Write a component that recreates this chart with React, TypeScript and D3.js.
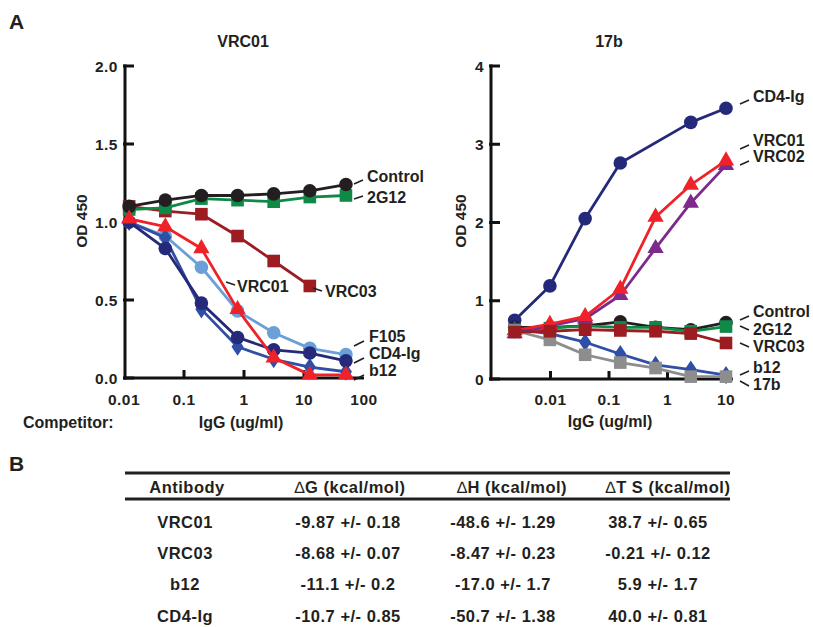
import React from "react";
import * as d3 from "d3";

// ---------- Data ----------
const leftConc = [0.0122, 0.0488, 0.195, 0.781, 3.125, 12.5, 50];
const rightConc = [0.00244, 0.00977, 0.0391, 0.156, 0.625, 2.5, 10];
const rightConcCD4 = [0.00244, 0.00977, 0.0391, 0.156, 2.5, 10];

const leftControl = [1.1, 1.14, 1.17, 1.17, 1.18, 1.2, 1.24];
const left2G12 = [1.08, 1.09, 1.15, 1.14, 1.13, 1.16, 1.17];
const leftVRC03 = [1.1, 1.07, 1.05, 0.91, 0.75, 0.59];
const leftF105 = [1.0, 0.91, 0.71, 0.43, 0.29, 0.19, 0.15];
const leftCD4Ig = [1.0, 0.83, 0.48, 0.26, 0.18, 0.16, 0.11];
const leftB12 = [1.0, 0.9, 0.44, 0.2, 0.12, 0.07, 0.04];
const leftVRC01 = [1.02, 0.97, 0.83, 0.44, 0.13, 0.02, 0.02];

const rightCD4Ig = [0.75, 1.19, 2.05, 2.76, 3.28, 3.46];
const rightVRC01 = [0.62, 0.7, 0.8, 1.15, 2.07, 2.48, 2.79];
const rightVRC02 = [0.58, 0.68, 0.77, 1.07, 1.67, 2.25, 2.73];
const rightControl = [0.66, 0.66, 0.68, 0.73, 0.66, 0.63, 0.72];
const right2G12 = [0.63, 0.65, 0.68, 0.66, 0.66, 0.61, 0.67];
const rightVRC03 = [0.6, 0.61, 0.63, 0.62, 0.61, 0.58, 0.46];
const rightB12 = [0.63, 0.58, 0.47, 0.32, 0.18, 0.12, 0.05];
const right17b = [0.62, 0.5, 0.31, 0.21, 0.14, 0.03, 0.03];

const leftXTicks = [0.01, 0.1, 1, 10, 100];
const leftXTickLabels = ["0.01", "0.1", "1", "10", "100"];
const leftYTicks = [0, 0.5, 1, 1.5, 2];
const leftYTickLabels = ["0.0", "0.5", "1.0", "1.5", "2.0"];
const rightXTicks = [0.01, 0.1, 1, 10];
const rightXTickLabels = ["0.01", "0.1", "1", "10"];
const rightYTicks = [0, 1, 2, 3, 4];
const rightYTickLabels = ["0", "1", "2", "3", "4"];

const tableHeaders = ["Antibody", "G (kcal/mol)", "H (kcal/mol)", "T S (kcal/mol)"];
const tableAntibodies = ["VRC01", "VRC03", "b12", "CD4-Ig"];
const tableDG = ["-9.87 +/- 0.18", "-8.68 +/- 0.07", "-11.1 +/- 0.2", "-10.7 +/- 0.85"];
const tableDH = ["-48.6 +/- 1.29", "-8.47 +/- 0.23", "-17.0 +/- 1.7", "-50.7 +/- 1.38"];
const tableDTS = ["38.7 +/- 0.65", "-0.21 +/- 0.12", "5.9 +/- 1.7", "40.0 +/- 0.81"];

// ---------- Styles ----------
const FONT = "'Liberation Sans', Arial, Helvetica, sans-serif";
const INK = "#231f20";
const C = {
  control: "#231f20",
  g2g12: "#0f8a46",
  vrc03: "#9c1c22",
  vrc01: "#ee2228",
  f105: "#6b9fd8",
  cd4: "#25297a",
  b12: "#2f4ea6",
  vrc02: "#7d2a8c",
  b17: "#8d8d8d",
};

type Shape = "circle" | "square" | "triangle" | "diamond";

function Marker({ x, y, shape, color }: { x: number; y: number; shape: Shape; color: string }) {
  if (shape === "circle") return <circle cx={x} cy={y} r={6.8} fill={color} />;
  if (shape === "square") return <rect x={x - 6.3} y={y - 6.3} width={12.6} height={12.6} fill={color} />;
  if (shape === "triangle") {
    const s = d3.symbol().type(d3.symbolTriangle).size(115)();
    return <path d={s || ""} transform={`translate(${x},${y})`} fill={color} />;
  }
  const s = d3.symbol().type(d3.symbolDiamond).size(95)();
  return <path d={s || ""} transform={`translate(${x},${y}) scale(1.15,1)`} fill={color} />;
}

function Series({
  xs,
  ys,
  xScale,
  yScale,
  shape,
  color,
}: {
  xs: number[];
  ys: number[];
  xScale: d3.ScaleLogarithmic<number, number>;
  yScale: d3.ScaleLinear<number, number>;
  shape: Shape;
  color: string;
}) {
  const pts: [number, number][] = ys.map((v, i) => [xScale(xs[i]), yScale(v)]);
  const line = d3.line()(pts) || "";
  return (
    <g>
      <path d={line} fill="none" stroke={color} strokeWidth={2.8} strokeLinejoin="round" />
      {pts.map((p, i) => (
        <Marker key={i} x={p[0]} y={p[1]} shape={shape} color={color} />
      ))}
    </g>
  );
}

function Label({ x, y, text, lx1, ly1, lx2, ly2 }: any) {
  return (
    <g>
      <line x1={lx1} y1={ly1} x2={lx2} y2={ly2} stroke={INK} strokeWidth={1.6} />
      <text x={x} y={y} fontSize={16} fontWeight="bold" fill={INK}>
        {text}
      </text>
    </g>
  );
}

export default function App() {
  // Left panel scales
  const lx = d3.scaleLog().domain([0.01, 100]).range([124, 364]);
  const ly = d3.scaleLinear().domain([0, 2]).range([378, 66]);
  // Right panel scales
  const rx = d3.scaleLog().domain([0.001, 10]).range([492, 726]);
  const ry = d3.scaleLinear().domain([0, 4]).range([379, 66]);

  const axisColor = "#111";
  const tickFont = 15.5;
  const tickLS = 0.5;
  const tblFont = 16.5;
  const tblLS = 0.5;

  const colX = [185, 348, 503, 658];
  const headerX = [187, 350, 512, 668];
  const rowY = [528, 559, 590, 622];

  return (
    <svg width={813} height={627} style={{ position: "absolute", left: 0, top: 0 }} fontFamily={FONT}>
      <rect width={813} height={627} fill="#fff" />
      <text x={9} y={29} fontSize={21} fontWeight="bold" fill={INK}>A</text>
      <text x={9} y={471} fontSize={21} fontWeight="bold" fill={INK}>B</text>

      {/* ---------- Left panel ---------- */}
      <text x={243} y={47} fontSize={16} fontWeight="bold" textAnchor="middle" fill={INK}>VRC01</text>
      <line x1={125} y1={ly(2) - 1.5} x2={125} y2={ly(0) + 1.5} stroke={axisColor} strokeWidth={3} />
      <line x1={123.5} y1={ly(0)} x2={364} y2={ly(0)} stroke={axisColor} strokeWidth={3} />
      {leftYTicks.map((t, i) => (
        <g key={"ly" + i}>
          <line x1={123} x2={134} y1={ly(t)} y2={ly(t)} stroke={axisColor} strokeWidth={3} />
          <text x={118} y={ly(t) + 5.5} fontSize={tickFont} letterSpacing={tickLS} fontWeight="bold" textAnchor="end" fill={INK}>
            {leftYTickLabels[i]}
          </text>
        </g>
      ))}
      {leftXTicks.map((t, i) => (
        <g key={"lx" + i}>
          {i > 0 && i < leftXTicks.length - 1 && (
            <line x1={lx(t)} x2={lx(t)} y1={ly(0)} y2={ly(0) - 8} stroke={axisColor} strokeWidth={3} />
          )}
          <text x={lx(t)} y={405} fontSize={tickFont} letterSpacing={tickLS} fontWeight="bold" textAnchor="middle" fill={INK}>
            {leftXTickLabels[i]}
          </text>
        </g>
      ))}
      <text transform="translate(87,221) rotate(-90)" fontSize={15.5} fontWeight="bold" textAnchor="middle" fill={INK}>
        OD 450
      </text>
      <text x={23} y={428} fontSize={16} fontWeight="bold" fill={INK}>Competitor:</text>
      <text x={241} y={428} fontSize={16} fontWeight="bold" textAnchor="middle" fill={INK}>IgG (ug/ml)</text>

      <Series xs={leftConc} ys={leftVRC03} xScale={lx} yScale={ly} shape="square" color={C.vrc03} />
      <Series xs={leftConc} ys={left2G12} xScale={lx} yScale={ly} shape="square" color={C.g2g12} />
      <Series xs={leftConc} ys={leftControl} xScale={lx} yScale={ly} shape="circle" color={C.control} />
      <Series xs={leftConc} ys={leftF105} xScale={lx} yScale={ly} shape="circle" color={C.f105} />
      <Series xs={leftConc} ys={leftB12} xScale={lx} yScale={ly} shape="diamond" color={C.b12} />
      <Series xs={leftConc} ys={leftCD4Ig} xScale={lx} yScale={ly} shape="circle" color={C.cd4} />
      <Series xs={leftConc} ys={leftVRC01} xScale={lx} yScale={ly} shape="triangle" color={C.vrc01} />

      <Label x={367} y={182} text="Control" lx1={354} ly1={184} lx2={363} ly2={180} />
      <Label x={367} y={203} text="2G12" lx1={354} ly1={199} lx2={363} ly2={196} />
      <Label x={325} y={297} text="VRC03" lx1={313} ly1={288} lx2={322} ly2={291} />
      <Label x={237} y={292} text="VRC01" lx1={226} ly1={282} lx2={235} ly2={285} />
      <Label x={369} y={342} text="F105" lx1={354} ly1={346} lx2={364} ly2={341} />
      <Label x={369} y={359} text="CD4-Ig" lx1={354} ly1={363} lx2={364} ly2={358} />
      <Label x={369} y={376} text="b12" lx1={354} ly1={380} lx2={364} ly2={375} />

      {/* ---------- Right panel ---------- */}
      <text x={609} y={47} fontSize={16} fontWeight="bold" textAnchor="middle" fill={INK}>17b</text>
      <line x1={491} y1={ry(4) - 1.5} x2={491} y2={ry(0) + 1.5} stroke={axisColor} strokeWidth={3} />
      <line x1={489.5} y1={ry(0)} x2={733} y2={ry(0)} stroke={axisColor} strokeWidth={3} />
      {rightYTicks.map((t, i) => (
        <g key={"ry" + i}>
          <line x1={489} x2={500} y1={ry(t)} y2={ry(t)} stroke={axisColor} strokeWidth={3} />
          <text x={484} y={ry(t) + 5.5} fontSize={tickFont} letterSpacing={tickLS} fontWeight="bold" textAnchor="end" fill={INK}>
            {rightYTickLabels[i]}
          </text>
        </g>
      ))}
      {rightXTicks.map((t, i) => (
        <g key={"rx" + i}>
          <line x1={rx(t)} x2={rx(t)} y1={ry(0)} y2={ry(0) - 8} stroke={axisColor} strokeWidth={3} />
          <text x={rx(t)} y={405} fontSize={tickFont} letterSpacing={tickLS} fontWeight="bold" textAnchor="middle" fill={INK}>
            {rightXTickLabels[i]}
          </text>
        </g>
      ))}
      <text transform="translate(466,221) rotate(-90)" fontSize={15.5} fontWeight="bold" textAnchor="middle" fill={INK}>
        OD 450
      </text>
      <text x={610} y={427} fontSize={16} fontWeight="bold" textAnchor="middle" fill={INK}>IgG (ug/ml)</text>

      <Series xs={rightConcCD4} ys={rightCD4Ig} xScale={rx} yScale={ry} shape="circle" color={C.cd4} />
      <Series xs={rightConc} ys={rightControl} xScale={rx} yScale={ry} shape="circle" color={C.control} />
      <Series xs={rightConc} ys={right2G12} xScale={rx} yScale={ry} shape="square" color={C.g2g12} />
      <Series xs={rightConc} ys={rightVRC02} xScale={rx} yScale={ry} shape="triangle" color={C.vrc02} />
      <Series xs={rightConc} ys={rightVRC01} xScale={rx} yScale={ry} shape="triangle" color={C.vrc01} />
      <Series xs={rightConc} ys={rightB12} xScale={rx} yScale={ry} shape="diamond" color={C.b12} />
      <Series xs={rightConc} ys={right17b} xScale={rx} yScale={ry} shape="square" color={C.b17} />
      <Series xs={rightConc} ys={rightVRC03} xScale={rx} yScale={ry} shape="square" color={C.vrc03} />

      <Label x={753} y={102} text="CD4-Ig" lx1={740} ly1={104} lx2={749} ly2={100} />
      <Label x={753} y={146} text="VRC01" lx1={740} ly1={149} lx2={749} ly2={145} />
      <Label x={753} y={162} text="VRC02" lx1={740} ly1={165} lx2={749} ly2={161} />
      <Label x={753} y={317} text="Control" lx1={740} ly1={320} lx2={749} ly2={316} />
      <Label x={753} y={335} text="2G12" lx1={740} ly1={326} lx2={749} ly2={330} />
      <Label x={753} y={352} text="VRC03" lx1={740} ly1={343} lx2={749} ly2={347} />
      <Label x={753} y={373} text="b12" lx1={740} ly1={375} lx2={749} ly2={371} />
      <Label x={753} y={390} text="17b" lx1={740} ly1={381} lx2={749} ly2={386} />

      {/* ---------- Table ---------- */}
      <line x1={125} x2={730} y1={473} y2={473} stroke={INK} strokeWidth={3} />
      <line x1={125} x2={730} y1={499} y2={499} stroke={INK} strokeWidth={3} />
      {tableHeaders.map((h, i) => (
        <text key={"h" + i} x={headerX[i]} y={493} fontSize={tblFont} letterSpacing={tblLS} fontWeight="bold" textAnchor="middle" fill={INK}>
          {i > 0 && <tspan fontWeight="normal">{"\u2206"}</tspan>}
          {h}
        </text>
      ))}
      {tableAntibodies.map((a, r) => (
        <g key={"r" + r}>
          <text x={colX[0]} y={rowY[r]} fontSize={tblFont} letterSpacing={tblLS} fontWeight="bold" textAnchor="middle" fill={INK}>{a}</text>
          <text x={colX[1]} y={rowY[r]} fontSize={tblFont} letterSpacing={tblLS} fontWeight="bold" textAnchor="middle" fill={INK}>{tableDG[r]}</text>
          <text x={colX[2]} y={rowY[r]} fontSize={tblFont} letterSpacing={tblLS} fontWeight="bold" textAnchor="middle" fill={INK}>{tableDH[r]}</text>
          <text x={colX[3]} y={rowY[r]} fontSize={tblFont} letterSpacing={tblLS} fontWeight="bold" textAnchor="middle" fill={INK}>{tableDTS[r]}</text>
        </g>
      ))}
    </svg>
  );
}
